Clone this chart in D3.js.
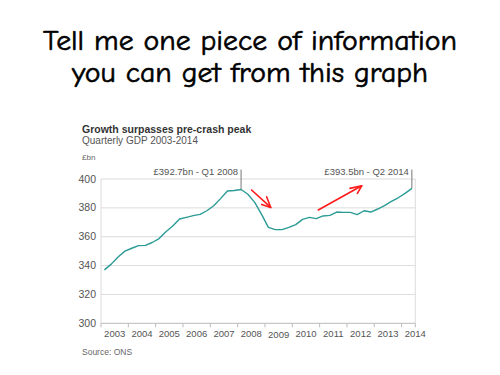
<!DOCTYPE html>
<html>
<head>
<meta charset="utf-8">
<script src="https://cdn.jsdelivr.net/npm/d3@7"></script>
<style>
  body { margin: 0; background: #fff; }
  svg { display: block; }
  .heading { font-family: "Comic Sans MS", "Comic Neue", "Open Sans", sans-serif; fill: #000; stroke: #000; stroke-width: 0.6; }
  .chart text { font-family: "Liberation Sans", Arial, sans-serif; }
</style>
</head>
<body>
<svg id="chart" width="500" height="375"></svg>
<script>
/* Quarterly GDP, £bn, Q1 2003 - Q2 2014 */

const years = [2003, 2004, 2005, 2006, 2007, 2008, 2009, 2010, 2011, 2012, 2013, 2014];
const yTicks = [300, 320, 340, 360, 380, 400];
const gdp = [
  337, 341, 346, 350,
  352, 353.8, 354, 356,
  358.7, 363.5, 367.4, 372.3,
  373.4, 374.6, 375.5, 378,
  381.5, 386.4, 391.7, 392,
  392.7, 389.4, 383.8, 375.5,
  366.5, 364.9, 364.9, 366.5,
  368.4, 372, 373.4, 372.5,
  374.4, 374.8, 377.1, 376.9,
  376.9, 375.3, 378, 377.1,
  379.2, 381.5, 384.5, 387,
  390, 393.5
];
const notes = [
  {index: 20, label: "£392.7bn - Q1 2008"},
  {index: 45, label: "£393.5bn - Q2 2014"}
];
// hand drawn red arrows, in [year, £bn]
const arrows = [
  {shaft: [[2008.51, 392.4], [2009.21, 380.3]], head: [[2008.88, 382.4], [2009.21, 380.3], [2009.06, 387.7]]},
  {shaft: [[2010.95, 378.5], [2012.54, 395.3]], head: [[2012.11, 393.5], [2012.54, 395.3], [2012.38, 390.1]]}
];

const svg = d3.select("#chart");

// big slide heading
svg.append("text").attr("class", "heading")
    .attr("x", 250).attr("y", 50)
    .attr("text-anchor", "middle")
    .attr("font-size", 28)
    .attr("textLength", 414).attr("lengthAdjust", "spacingAndGlyphs")
    .text("Tell me one piece of information");
svg.append("text").attr("class", "heading")
    .attr("x", 250).attr("y", 82)
    .attr("text-anchor", "middle")
    .attr("font-size", 28)
    .attr("textLength", 356).attr("lengthAdjust", "spacingAndGlyphs")
    .text("you can get from this graph");

const chart = svg.append("g").attr("class", "chart");

const x = d3.scaleLinear().domain([2003, 2014.5]).range([101, 415.3]);
const y = d3.scaleLinear().domain([300, 400]).range([323.3, 179]);
const qx = i => x(2003 + i / 4 + 0.125);

chart.append("text").attr("x", 82).attr("y", 133)
    .attr("font-size", 10.5).attr("font-weight", "bold").attr("fill", "#333")
    .text("Growth surpasses pre-crash peak");
chart.append("text").attr("x", 82).attr("y", 143.5)
    .attr("font-size", 10).attr("fill", "#555")
    .text("Quarterly GDP 2003-2014");
chart.append("text").attr("x", 82).attr("y", 160)
    .attr("font-size", 8).attr("fill", "#666")
    .text("£bn");

// gridlines
chart.selectAll("line.grid")
    .data(yTicks.slice(1)).enter()
    .append("line").attr("class", "grid")
    .attr("x1", x(2003)).attr("x2", x(2014.5))
    .attr("y1", d => y(d)).attr("y2", d => y(d))
    .attr("stroke", "#dcdcdc").attr("stroke-width", 1);

// side borders
chart.selectAll("line.side")
    .data([2003, 2014.5]).enter()
    .append("line").attr("class", "side")
    .attr("x1", d => x(d)).attr("x2", d => x(d))
    .attr("y1", y(400)).attr("y2", y(300))
    .attr("stroke", "#dcdcdc");

// y labels
chart.selectAll("text.ytick")
    .data(yTicks).enter()
    .append("text").attr("class", "ytick")
    .attr("x", 96).attr("y", d => y(d) + 3.5)
    .attr("text-anchor", "end")
    .attr("font-size", 10.5).attr("fill", "#555")
    .text(d => d);

// x axis
chart.append("line")
    .attr("x1", x(2003)).attr("x2", x(2014.5))
    .attr("y1", y(300)).attr("y2", y(300))
    .attr("stroke", "#bbb");
chart.selectAll("line.xtick")
    .data(years.concat([2014.5])).enter()
    .append("line").attr("class", "xtick")
    .attr("x1", d => x(d)).attr("x2", d => x(d))
    .attr("y1", y(300)).attr("y2", y(300) + 4)
    .attr("stroke", "#bbb");
chart.selectAll("text.xlab")
    .data(years).enter()
    .append("text").attr("class", "xlab")
    .attr("x", d => x(d + 0.5)).attr("y", d => d === 2009 ? 338 : 336.5)
    .attr("text-anchor", "middle")
    .attr("font-size", 9.5).attr("fill", "#555")
    .text(d => d);

// annotation stems + labels
notes.forEach(n => {
    chart.append("line")
        .attr("x1", qx(n.index)).attr("x2", qx(n.index))
        .attr("y1", 169.5).attr("y2", y(gdp[n.index]))
        .attr("stroke", "#777");
    chart.append("text")
        .attr("x", qx(n.index) - 3).attr("y", 175)
        .attr("text-anchor", "end")
        .attr("font-size", 9.5).attr("fill", "#555")
        .text(n.label);
});

// gdp line
chart.append("path")
    .datum(gdp)
    .attr("d", d3.line().x((d, i) => qx(i)).y(d => y(d)))
    .attr("fill", "none").attr("stroke", "#2b9b95").attr("stroke-width", 1.4)
    .attr("stroke-linejoin", "round");

chart.append("text").attr("x", 82).attr("y", 355)
    .attr("font-size", 8.5).attr("fill", "#666")
    .text("Source: ONS");

// red arrows
const arrowLine = d3.line().x(d => x(d[0])).y(d => y(d[1]));
arrows.forEach(a => {
    [a.shaft, a.head].forEach(pts => {
        svg.append("path")
            .attr("d", arrowLine(pts))
            .attr("fill", "none").attr("stroke", "#ff1a1a")
            .attr("stroke-width", 1.6).attr("stroke-linecap", "round")
            .attr("stroke-linejoin", "round");
    });
});
</script>
</body>
</html>
